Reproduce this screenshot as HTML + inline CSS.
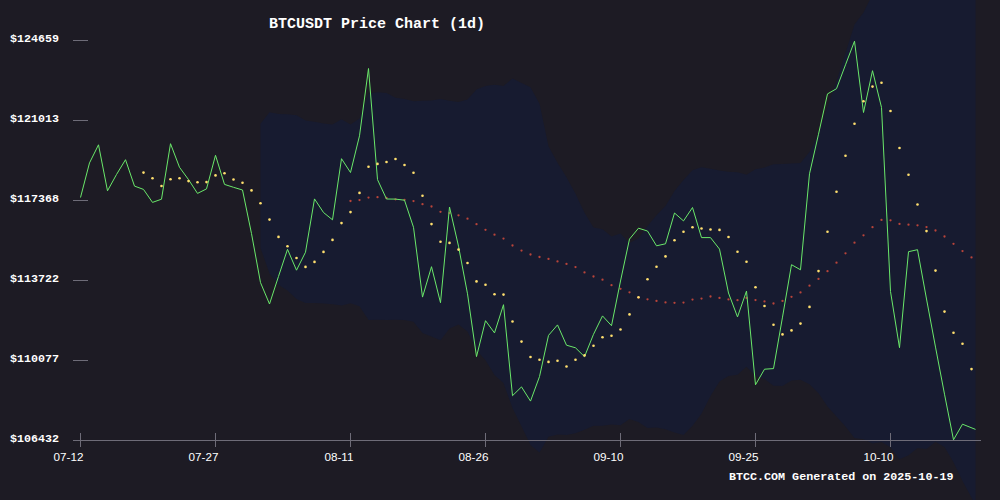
<!DOCTYPE html>
<html><head><meta charset="utf-8"><style>
html,body{margin:0;padding:0;background:#1d1b24;width:1000px;height:500px;overflow:hidden}
#c{position:relative;width:1000px;height:500px}
svg{position:absolute;left:0;top:0}
.t{position:absolute;left:269px;top:16px;font:bold 15px "Liberation Mono",monospace;color:#fff;white-space:pre}
.yl{position:absolute;left:0;width:59px;text-align:right;font:bold 11.67px "Liberation Mono",monospace;color:#fff;line-height:14px}
.xl{position:absolute;top:450px;width:60px;text-align:right;font:11.7px "Liberation Sans",sans-serif;color:#fff;line-height:14px}
.f{position:absolute;left:729px;top:470px;font:bold 11.7px "Liberation Mono",monospace;color:#fff;white-space:pre}
</style></head><body><div id="c">
<svg width="1000" height="500" viewBox="0 0 1000 500">
<rect width="1000" height="500" fill="#1d1b24"/>
<g fill="#171b30"><polygon points="260.5,123.7 269.5,112.3 278.5,114.1 287.5,114.3 296.5,115.2 305.5,120.5 314.5,121.7 323.5,123.5 332.5,124.5 341.5,119.3 350.5,124.4 359.5,118.4 368.5,93.5 377.5,92.3 386.5,93.0 395.5,97.7 404.5,99.0 413.5,101.3 422.5,100.8 431.5,100.5 440.5,98.9 449.5,100.7 458.5,101.9 467.5,99.4 476.5,89.6 485.5,86.0 494.5,84.8 503.5,85.9 512.5,78.4 521.5,83.0 530.5,87.2 539.5,103.8 548.5,146.2 557.5,162.8 566.5,177.2 575.5,193.8 584.5,212.8 593.5,227.6 602.5,229.3 611.5,236.5 620.5,233.6 629.5,243.1 638.5,238.3 647.5,226.1 656.5,215.3 665.5,205.9 674.5,190.9 683.5,180.0 692.5,170.3 701.5,167.3 710.5,168.7 719.5,170.5 728.5,171.8 737.5,172.2 746.5,174.8 755.5,169.2 764.5,167.6 773.5,164.2 782.5,164.1 791.5,163.6 800.5,163.1 809.5,152.1 818.5,133.8 827.5,106.7 836.5,81.1 845.5,53.0 854.5,24.5 863.5,12.4 872.5,-5.4 881.5,-17.2 890.5,-17.0 899.5,-19.2 908.5,-19.3 917.5,-18.6 926.5,-18.8 935.5,-15.5 944.5,-18.0 953.5,-26.3 962.5,-34.4 975.5,-41.8 975.5,504.9 962.5,481.1 953.5,462.2 944.5,446.9 935.5,441.8 926.5,448.9 917.5,447.9 908.5,455.3 899.5,459.3 890.5,447.3 881.5,442.1 872.5,443.4 863.5,439.3 854.5,438.0 845.5,426.6 836.5,416.4 827.5,406.5 818.5,393.2 809.5,384.3 800.5,379.8 791.5,380.4 782.5,386.0 773.5,385.8 764.5,379.0 755.5,376.1 746.5,366.8 737.5,374.8 728.5,376.0 719.5,381.5 710.5,396.1 701.5,413.8 692.5,425.8 683.5,434.9 674.5,432.4 665.5,429.3 656.5,427.6 647.5,428.0 638.5,422.1 629.5,419.0 620.5,425.3 611.5,424.5 602.5,425.8 593.5,425.7 584.5,429.8 575.5,433.2 566.5,434.9 557.5,434.6 548.5,436.7 539.5,452.5 530.5,445.0 521.5,426.3 512.5,408.1 503.5,383.0 494.5,374.9 485.5,360.3 476.5,349.9 467.5,331.4 458.5,324.4 449.5,328.6 440.5,340.2 431.5,336.5 422.5,333.0 413.5,321.7 404.5,320.0 395.5,319.7 386.5,320.0 377.5,319.7 368.5,319.9 359.5,306.2 350.5,303.3 341.5,305.5 332.5,304.3 323.5,303.6 314.5,303.1 305.5,303.0 296.5,299.1 287.5,290.4 278.5,284.8 269.5,273.4 260.5,247.9"/></g>
<g stroke="#6e6c78" stroke-width="1"><line x1="73" y1="40.5" x2="88" y2="40.5"/><line x1="73" y1="120.5" x2="88" y2="120.5"/><line x1="73" y1="200.5" x2="88" y2="200.5"/><line x1="73" y1="280.5" x2="88" y2="280.5"/><line x1="73" y1="360.5" x2="88" y2="360.5"/><line x1="73" y1="440.5" x2="88" y2="440.5"/><line x1="80.5" y1="433" x2="80.5" y2="447"/><line x1="215.5" y1="433" x2="215.5" y2="447"/><line x1="350.5" y1="433" x2="350.5" y2="447"/><line x1="485.5" y1="433" x2="485.5" y2="447"/><line x1="620.5" y1="433" x2="620.5" y2="447"/><line x1="755.5" y1="433" x2="755.5" y2="447"/><line x1="890.5" y1="433" x2="890.5" y2="447"/><line x1="80" y1="440.5" x2="981" y2="440.5"/></g>
<g fill="#b8443a"><circle cx="350.5" cy="201.0" r="1.15"/><circle cx="359.5" cy="200.1" r="1.15"/><circle cx="368.5" cy="197.6" r="1.15"/><circle cx="377.5" cy="197.2" r="1.15"/><circle cx="386.5" cy="198.0" r="1.15"/><circle cx="395.5" cy="199.3" r="1.15"/><circle cx="404.5" cy="199.8" r="1.15"/><circle cx="413.5" cy="201.1" r="1.15"/><circle cx="422.5" cy="204.2" r="1.15"/><circle cx="431.5" cy="206.5" r="1.15"/><circle cx="440.5" cy="211.8" r="1.15"/><circle cx="449.5" cy="213.1" r="1.15"/><circle cx="458.5" cy="215.3" r="1.15"/><circle cx="467.5" cy="218.7" r="1.15"/><circle cx="476.5" cy="224.2" r="1.15"/><circle cx="485.5" cy="229.8" r="1.15"/><circle cx="494.5" cy="234.7" r="1.15"/><circle cx="503.5" cy="238.6" r="1.15"/><circle cx="512.5" cy="245.5" r="1.15"/><circle cx="521.5" cy="250.6" r="1.15"/><circle cx="530.5" cy="254.5" r="1.15"/><circle cx="539.5" cy="257.0" r="1.15"/><circle cx="548.5" cy="258.9" r="1.15"/><circle cx="557.5" cy="261.4" r="1.15"/><circle cx="566.5" cy="263.9" r="1.15"/><circle cx="575.5" cy="267.1" r="1.15"/><circle cx="584.5" cy="272.4" r="1.15"/><circle cx="593.5" cy="276.5" r="1.15"/><circle cx="602.5" cy="279.7" r="1.15"/><circle cx="611.5" cy="285.2" r="1.15"/><circle cx="620.5" cy="288.8" r="1.15"/><circle cx="629.5" cy="292.3" r="1.15"/><circle cx="638.5" cy="297.6" r="1.15"/><circle cx="647.5" cy="299.3" r="1.15"/><circle cx="656.5" cy="300.9" r="1.15"/><circle cx="665.5" cy="302.4" r="1.15"/><circle cx="674.5" cy="302.8" r="1.15"/><circle cx="683.5" cy="302.6" r="1.15"/><circle cx="692.5" cy="299.6" r="1.15"/><circle cx="701.5" cy="298.6" r="1.15"/><circle cx="710.5" cy="296.5" r="1.15"/><circle cx="719.5" cy="297.9" r="1.15"/><circle cx="728.5" cy="299.4" r="1.15"/><circle cx="737.5" cy="300.2" r="1.15"/><circle cx="746.5" cy="298.0" r="1.15"/><circle cx="755.5" cy="300.1" r="1.15"/><circle cx="764.5" cy="301.4" r="1.15"/><circle cx="773.5" cy="303.5" r="1.15"/><circle cx="782.5" cy="300.9" r="1.15"/><circle cx="791.5" cy="296.8" r="1.15"/><circle cx="800.5" cy="292.4" r="1.15"/><circle cx="809.5" cy="285.7" r="1.15"/><circle cx="818.5" cy="278.9" r="1.15"/><circle cx="827.5" cy="271.2" r="1.15"/><circle cx="836.5" cy="262.7" r="1.15"/><circle cx="845.5" cy="253.3" r="1.15"/><circle cx="854.5" cy="242.7" r="1.15"/><circle cx="863.5" cy="235.3" r="1.15"/><circle cx="872.5" cy="227.2" r="1.15"/><circle cx="881.5" cy="219.9" r="1.15"/><circle cx="890.5" cy="220.3" r="1.15"/><circle cx="899.5" cy="223.9" r="1.15"/><circle cx="908.5" cy="224.7" r="1.15"/><circle cx="917.5" cy="225.3" r="1.15"/><circle cx="926.5" cy="227.1" r="1.15"/><circle cx="935.5" cy="230.5" r="1.15"/><circle cx="944.5" cy="236.5" r="1.15"/><circle cx="953.5" cy="243.8" r="1.15"/><circle cx="962.5" cy="251.1" r="1.15"/><circle cx="971.5" cy="257.4" r="1.15"/></g>
<polyline fill="none" stroke="#6ae86a" stroke-width="1" stroke-linejoin="miter" points="80.5,197.5 89.5,162.9 98.5,144.8 107.5,190.8 116.5,174.5 125.5,159.7 134.5,186.1 143.5,189.4 152.5,202.4 161.5,199.2 170.5,143.7 179.5,167.3 188.5,179.6 197.5,193.4 206.5,188.9 215.5,155.3 224.5,184.4 233.5,187.3 242.5,190.0 251.5,233.6 260.5,282.6 269.5,304.0 278.5,276.4 287.5,249.3 296.5,270.2 305.5,252.2 314.5,198.9 323.5,212.5 332.5,219.8 341.5,158.7 350.5,172.5 359.5,135.8 368.5,68.5 377.5,179.6 386.5,199.0 395.5,199.1 404.5,200.2 413.5,227.3 422.5,297.1 431.5,266.7 440.5,302.7 449.5,207.0 458.5,246.2 467.5,293.8 476.5,356.6 485.5,320.7 494.5,332.9 503.5,304.7 512.5,395.7 521.5,386.9 530.5,401.1 539.5,376.6 548.5,335.4 557.5,324.9 566.5,345.2 575.5,347.8 584.5,356.7 593.5,334.3 602.5,315.9 611.5,325.7 620.5,281.0 629.5,239.1 638.5,228.2 647.5,231.0 656.5,245.8 665.5,243.8 674.5,213.0 683.5,220.9 692.5,207.5 701.5,237.6 710.5,237.6 719.5,249.1 728.5,293.0 737.5,316.9 746.5,291.1 755.5,384.8 764.5,369.2 773.5,368.6 782.5,317.1 791.5,264.7 800.5,269.8 809.5,173.8 818.5,134.2 827.5,93.9 836.5,88.7 845.5,64.8 854.5,41.2 863.5,112.5 872.5,70.7 881.5,107.4 890.5,291.5 899.5,347.7 908.5,251.7 917.5,249.7 926.5,299.0 935.5,347.1 944.5,394.2 953.5,439.8 962.5,424.2 975.5,429.4"/>
<g fill="#ffdf6e"><circle cx="143.5" cy="172.6" r="1.3"/><circle cx="152.5" cy="178.2" r="1.3"/><circle cx="161.5" cy="186.0" r="1.3"/><circle cx="170.5" cy="179.3" r="1.3"/><circle cx="179.5" cy="178.3" r="1.3"/><circle cx="188.5" cy="181.1" r="1.3"/><circle cx="197.5" cy="182.2" r="1.3"/><circle cx="206.5" cy="182.1" r="1.3"/><circle cx="215.5" cy="175.4" r="1.3"/><circle cx="224.5" cy="173.2" r="1.3"/><circle cx="233.5" cy="179.5" r="1.3"/><circle cx="242.5" cy="182.7" r="1.3"/><circle cx="251.5" cy="190.4" r="1.3"/><circle cx="260.5" cy="203.2" r="1.3"/><circle cx="269.5" cy="219.6" r="1.3"/><circle cx="278.5" cy="236.9" r="1.3"/><circle cx="287.5" cy="246.2" r="1.3"/><circle cx="296.5" cy="258.0" r="1.3"/><circle cx="305.5" cy="266.9" r="1.3"/><circle cx="314.5" cy="261.9" r="1.3"/><circle cx="323.5" cy="251.9" r="1.3"/><circle cx="332.5" cy="239.9" r="1.3"/><circle cx="341.5" cy="223.1" r="1.3"/><circle cx="350.5" cy="212.1" r="1.3"/><circle cx="359.5" cy="192.9" r="1.3"/><circle cx="368.5" cy="166.7" r="1.3"/><circle cx="377.5" cy="163.9" r="1.3"/><circle cx="386.5" cy="162.0" r="1.3"/><circle cx="395.5" cy="159.0" r="1.3"/><circle cx="404.5" cy="165.0" r="1.3"/><circle cx="413.5" cy="172.8" r="1.3"/><circle cx="422.5" cy="195.8" r="1.3"/><circle cx="431.5" cy="224.1" r="1.3"/><circle cx="440.5" cy="241.7" r="1.3"/><circle cx="449.5" cy="242.9" r="1.3"/><circle cx="458.5" cy="249.6" r="1.3"/><circle cx="467.5" cy="263.0" r="1.3"/><circle cx="476.5" cy="281.4" r="1.3"/><circle cx="485.5" cy="284.8" r="1.3"/><circle cx="494.5" cy="294.3" r="1.3"/><circle cx="503.5" cy="294.6" r="1.3"/><circle cx="512.5" cy="321.5" r="1.3"/><circle cx="521.5" cy="341.6" r="1.3"/><circle cx="530.5" cy="357.0" r="1.3"/><circle cx="539.5" cy="359.8" r="1.3"/><circle cx="548.5" cy="361.9" r="1.3"/><circle cx="557.5" cy="360.8" r="1.3"/><circle cx="566.5" cy="366.5" r="1.3"/><circle cx="575.5" cy="359.7" r="1.3"/><circle cx="584.5" cy="355.4" r="1.3"/><circle cx="593.5" cy="345.8" r="1.3"/><circle cx="602.5" cy="337.2" r="1.3"/><circle cx="611.5" cy="335.8" r="1.3"/><circle cx="620.5" cy="329.5" r="1.3"/><circle cx="629.5" cy="314.4" r="1.3"/><circle cx="638.5" cy="297.3" r="1.3"/><circle cx="647.5" cy="279.3" r="1.3"/><circle cx="656.5" cy="266.7" r="1.3"/><circle cx="665.5" cy="256.4" r="1.3"/><circle cx="674.5" cy="240.3" r="1.3"/><circle cx="683.5" cy="231.7" r="1.3"/><circle cx="692.5" cy="227.2" r="1.3"/><circle cx="701.5" cy="228.5" r="1.3"/><circle cx="710.5" cy="229.5" r="1.3"/><circle cx="719.5" cy="229.9" r="1.3"/><circle cx="728.5" cy="237.0" r="1.3"/><circle cx="737.5" cy="251.8" r="1.3"/><circle cx="746.5" cy="261.8" r="1.3"/><circle cx="755.5" cy="287.2" r="1.3"/><circle cx="764.5" cy="306.0" r="1.3"/><circle cx="773.5" cy="324.7" r="1.3"/><circle cx="782.5" cy="334.4" r="1.3"/><circle cx="791.5" cy="330.4" r="1.3"/><circle cx="800.5" cy="323.6" r="1.3"/><circle cx="809.5" cy="306.9" r="1.3"/><circle cx="818.5" cy="271.1" r="1.3"/><circle cx="827.5" cy="231.7" r="1.3"/><circle cx="836.5" cy="191.7" r="1.3"/><circle cx="845.5" cy="155.7" r="1.3"/><circle cx="854.5" cy="123.8" r="1.3"/><circle cx="863.5" cy="101.3" r="1.3"/><circle cx="872.5" cy="86.6" r="1.3"/><circle cx="881.5" cy="82.7" r="1.3"/><circle cx="890.5" cy="111.0" r="1.3"/><circle cx="899.5" cy="148.0" r="1.3"/><circle cx="908.5" cy="174.7" r="1.3"/><circle cx="917.5" cy="204.5" r="1.3"/><circle cx="926.5" cy="231.1" r="1.3"/><circle cx="935.5" cy="270.6" r="1.3"/><circle cx="944.5" cy="311.6" r="1.3"/><circle cx="953.5" cy="332.7" r="1.3"/><circle cx="962.5" cy="343.7" r="1.3"/><circle cx="971.5" cy="369.1" r="1.3"/></g>
</svg>
<div class="t">BTCUSDT Price Chart (1d)</div>
<div class="yl" style="top:31.5px">$124659</div><div class="yl" style="top:111.5px">$121013</div><div class="yl" style="top:191.5px">$117368</div><div class="yl" style="top:271.5px">$113722</div><div class="yl" style="top:351.5px">$110077</div><div class="yl" style="top:431.5px">$106432</div><div class="xl" style="left:23.5px">07-12</div><div class="xl" style="left:158.5px">07-27</div><div class="xl" style="left:293.5px">08-11</div><div class="xl" style="left:428.5px">08-26</div><div class="xl" style="left:563.5px">09-10</div><div class="xl" style="left:698.5px">09-25</div><div class="xl" style="left:833.5px">10-10</div>
<div class="f">BTCC.COM Generated on 2025-10-19</div>
</div></body></html>
